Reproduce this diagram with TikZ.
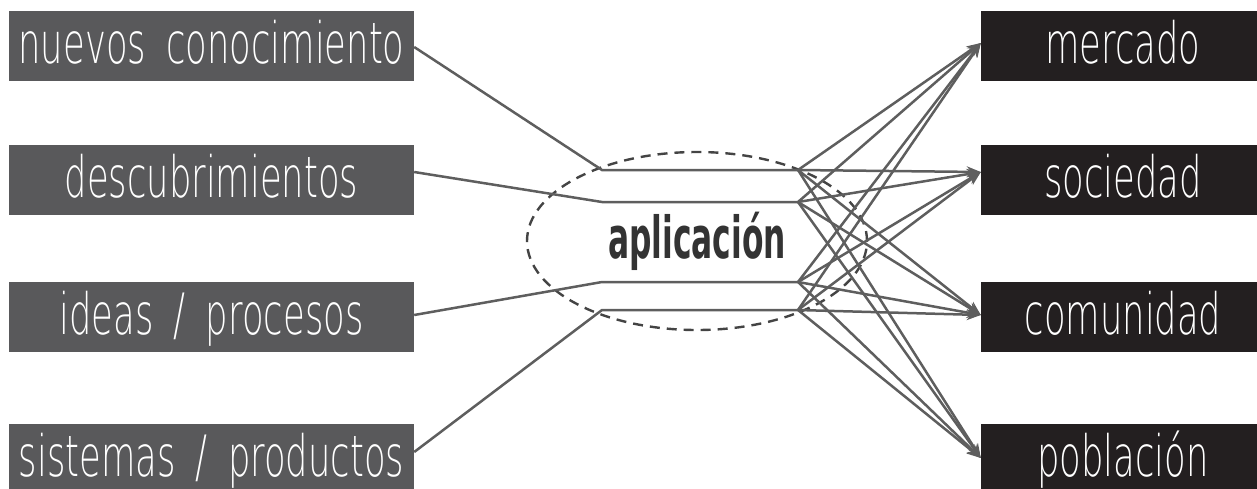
\documentclass[tikz,border=0pt]{standalone}
\usepackage{fontspec}
\usetikzlibrary{arrows.meta,shapes.geometric}
\newfontfamily\boxfont{DejaVu Sans ExtraLight}[FakeStretch=0.62,WordSpace=1.8]
\newfontfamily\appfont{DejaVu Sans}[FakeStretch=0.54]
\definecolor{leftbox}{HTML}{59595B}
\definecolor{rightbox}{HTML}{231F20}
\definecolor{linegray}{HTML}{5E5E5E}
\definecolor{dashgray}{HTML}{444444}
\definecolor{apptext}{HTML}{333333}
\begin{document}
\begin{tikzpicture}[x=1pt,y=-1pt,
  lbox/.style={fill=leftbox, text=white, minimum width=405pt, minimum height=70pt,
    inner sep=0pt, text height=44pt, text depth=10pt,
    font=\boxfont\fontsize{57}{60}\selectfont},
  rbox/.style={lbox, fill=rightbox, minimum width=284pt},
  conn/.style={draw=linegray, line width=2.5pt},
  arr/.style={conn, -{Stealth[length=14pt,width=11pt]}},
  dashell/.style={draw=dashgray, line width=2.4pt, dash pattern=on 10pt off 7pt,
    ellipse, minimum width=340pt, minimum height=178pt, inner sep=0pt}]
\useasboundingbox (0,0) rectangle (1257,488);
% left boxes
\node[lbox] (a1) at (211.5,46) {nuevos conocimiento};
\node[lbox] (a2) at (211.5,180) {descubrimientos};
\node[lbox] (a3) at (211.5,317) {ideas / procesos};
\node[lbox] (a4) at (211.5,459) {sistemas / productos};
% right boxes
\node[rbox] (b1) at (1123,46) {mercado};
\node[rbox] (b2) at (1123,180) {sociedad};
\node[rbox] (b3) at (1123,317) {comunidad};
\node[rbox] (b4) at (1123,459) {población};
% ellipse and label
\node[dashell] (ell) at (697,241) {};
\node[anchor=base, text=apptext, inner sep=0pt,
  font=\appfont\bfseries\fontsize{58}{60}\selectfont] (app) at (697,258) {aplicación};
% hubs
\coordinate (l1) at (602,170); \coordinate (r1) at (798,170);
\coordinate (l2) at (602,202); \coordinate (r2) at (798,202);
\coordinate (l3) at (602,282); \coordinate (r3) at (798,282);
\coordinate (l4) at (602,310); \coordinate (r4) at (798,310);
% targets
\coordinate (t1) at ([yshift=3pt]b1.west);
\coordinate (t2) at ([yshift=8pt]b2.west);
\coordinate (t3) at ([yshift=2pt]b3.west);
\coordinate (t4) at ([yshift=1pt]b4.west);
% incoming
\draw[conn] ([yshift=-1pt]a1.east) -- (l1) -- (r1);
\draw[conn] ([yshift=8pt]a2.east) -- (l2) -- (r2);
\draw[conn] ([yshift=2pt]a3.east) -- (l3) -- (r3);
\draw[conn] ([yshift=7pt]a4.east) -- (l4) -- (r4);
% outgoing
\foreach \i in {1,2,3,4}{
  \foreach \j in {1,2,3,4}{
    \draw[arr] (r\i) -- (t\j);
  }
}
\end{tikzpicture}
\end{document}
